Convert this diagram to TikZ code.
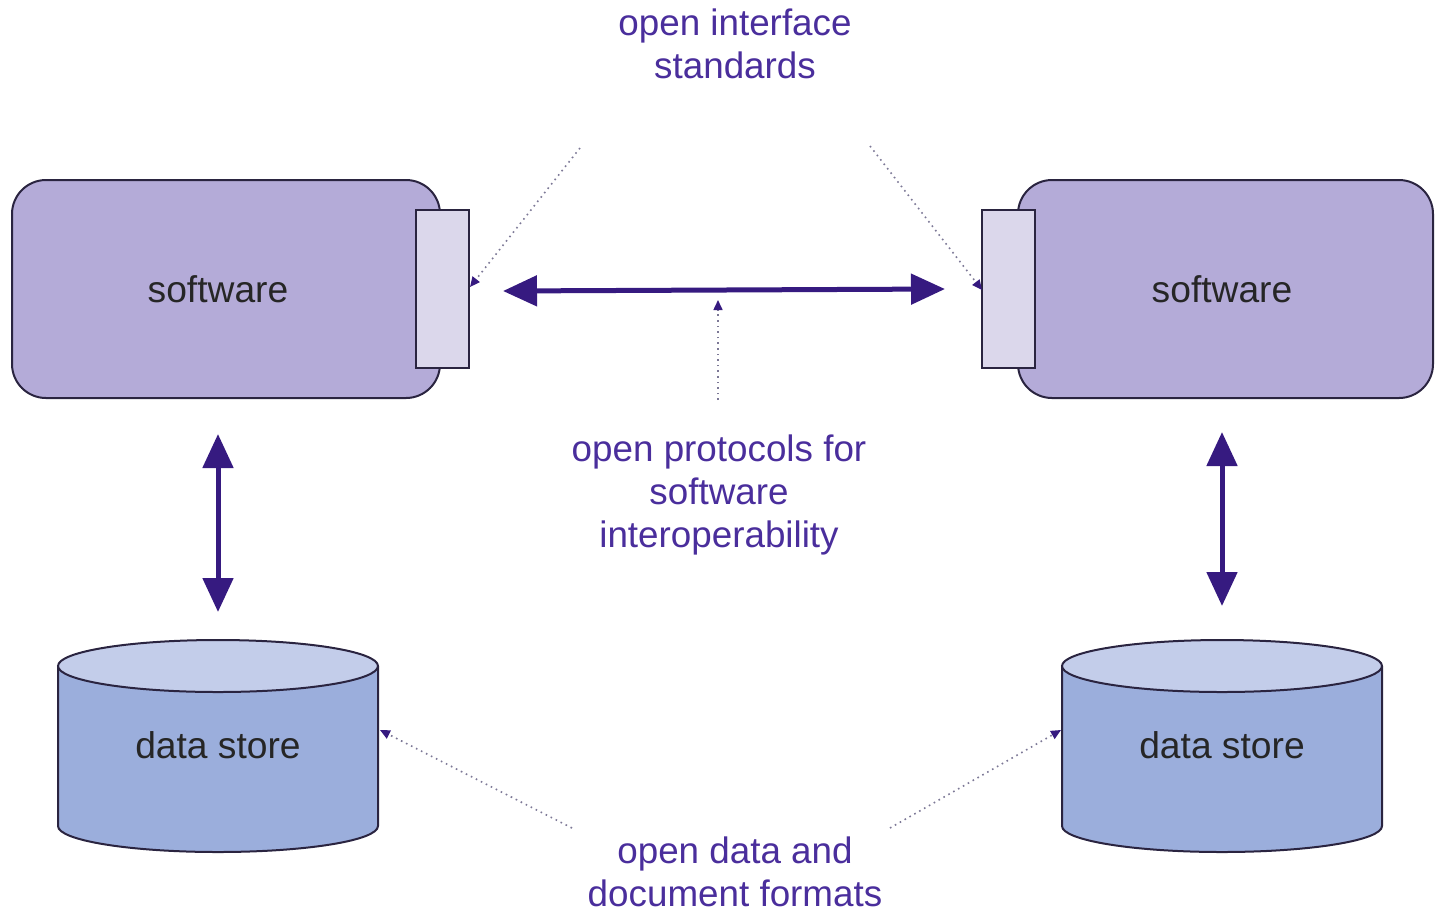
\documentclass[tikz,border=0pt]{standalone}
\usepackage{fontspec}
\setmainfont{Liberation Sans}
\usetikzlibrary{arrows.meta}
\definecolor{swfill}{HTML}{B4ABD8}
\definecolor{iffill}{HTML}{DBD7EB}
\definecolor{cylbody}{HTML}{9BAEDC}
\definecolor{cyltop}{HTML}{C3CDEA}
\definecolor{arrowc}{HTML}{361A80}
\definecolor{labelc}{HTML}{4A2E9C}
\definecolor{dotc}{HTML}{7C7896}
\definecolor{edgec}{HTML}{2A2440}
\begin{document}
\begin{tikzpicture}[x=0.5pt,y=-0.5pt,
  swbox/.style={draw=edgec,line width=1pt,fill=swfill,rounded corners=17pt,minimum width=214pt,minimum height=109pt,inner sep=0pt},
  ifbox/.style={draw=edgec,line width=1pt,fill=iffill,minimum width=26.5pt,minimum height=79pt,inner sep=0pt},
  boxtext/.style={font=\fontsize{18.6pt}{21.5pt}\selectfont,text=black!85},
  lbl/.style={font=\fontsize{18.4pt}{21.3pt}\selectfont,text=labelc,align=center,inner sep=0pt},
  bigarrow/.style={draw=arrowc,line width=2.5pt,{Triangle[length=17pt,width=15pt]}-{Triangle[length=17pt,width=15pt]}},
  dotarrow/.style={draw=dotc,line width=0.8pt,dotted,-{Triangle[length=5pt,width=4.5pt,color=arrowc]}}
]
\useasboundingbox (0,0) rectangle (1435,912);
% software boxes
\node[swbox] (swL) at (226,289) {};
\node[boxtext] (swLt) at (218,289) {software};
\node[ifbox] (ifL) at (442.5,289) {};
\node[swbox,minimum width=207.5pt] (swR) at (1225.5,289) {};
\node[boxtext] (swRt) at (1222,289) {software};
\node[ifbox] (ifR) at (1008,289) {};
% data stores
\newcommand{\cylinder}[3]{% center x, top center y, name
  \fill[cylbody] (#1-160,#2) -- (#1-160,#2+160) arc[start angle=180,end angle=0,x radius=160,y radius=26] -- (#1+160,#2) -- cycle;
  \draw[edgec,line width=1pt] (#1-160,#2) -- (#1-160,#2+160) arc[start angle=180,end angle=0,x radius=160,y radius=26] -- (#1+160,#2);
  \draw[edgec,line width=1pt,fill=cyltop] (#1,#2) ellipse[x radius=160,y radius=26];
  \coordinate (#3) at (#1,#2);
}
\cylinder{218}{666}{dsL}
\cylinder{1222}{666}{dsR}
\node[boxtext] (dsLt) at (218,745) {data store};
\node[boxtext] (dsRt) at (1222,745) {data store};
% labels
\node[lbl] (lifs) at (735,44) {open interface\\standards};
\node[lbl] (lproto) at (719,495) {open protocols for\\software\\interoperability};
\node[lbl] (ldata) at (735,872) {open data and\\document formats};
% arrow end points
\coordinate (hL) at (503,291);
\coordinate (hR) at (945,289);
\coordinate (vL1) at (218,434);
\coordinate (vL2) at (218,612);
\coordinate (vR1) at (1222,432);
\coordinate (vR2) at (1222,606);
\draw[bigarrow] (hL) -- (hR);
\draw[bigarrow] (vL1) -- (vL2);
\draw[bigarrow] (vR1) -- (vR2);
% dotted pointers
\coordinate (d1s) at (580,148);
\coordinate (d1e) at (470,287);
\coordinate (d2s) at (870,146);
\coordinate (d2e) at (982,290);
\coordinate (d3s) at (718,400);
\coordinate (d3e) at (718,300);
\coordinate (d4s) at (572,828);
\coordinate (d4e) at (380,730);
\coordinate (d5s) at (890,828);
\coordinate (d5e) at (1061,730);
\draw[dotarrow] (d1s) -- (d1e);
\draw[dotarrow] (d2s) -- (d2e);
\draw[dotarrow] (d3s) -- (d3e);
\draw[dotarrow] (d4s) -- (d4e);
\draw[dotarrow] (d5s) -- (d5e);
\end{tikzpicture}
\end{document}
